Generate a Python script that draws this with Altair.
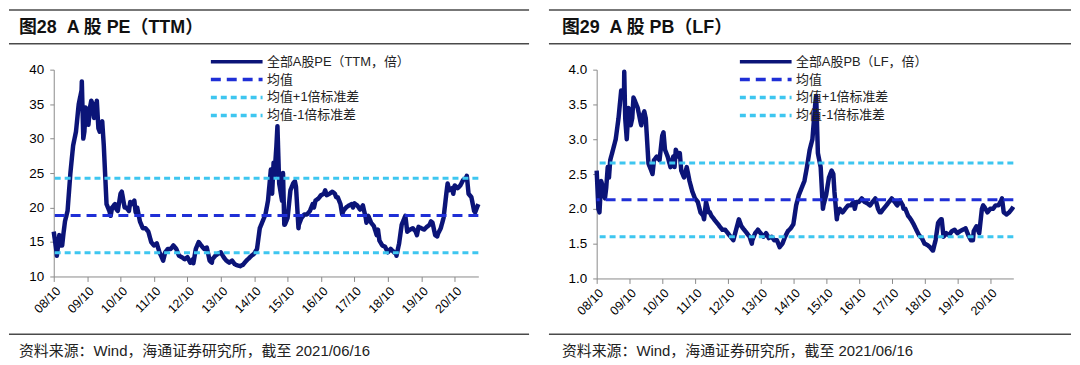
import altair as alt
import pandas as pd

FONT = "Liberation Sans, Arial, Noto Sans CJK SC"

# ---------------- data ----------------
month_start = "2008-10-01"   # first monthly observation; one value per month below

pe_values = [16.5, 13.5, 16, 14.5, 18, 19.5, 25, 29, 31, 35,
             37, 31, 34, 34.5, 35, 34, 31.5, 32, 29, 20.5,
             19.5, 20, 20.5, 19.5, 22, 21, 20, 19.5, 20.5, 21,
             20, 18, 17, 17, 16.5, 15, 14.5, 14.8, 13.5, 12.6,
             13.5, 14, 14, 14.5, 14, 13, 12.8, 12.5, 12.8, 12,
             12.5, 14, 15, 14.5, 14, 14.2, 12.3, 12.5, 13, 13.3,
             13.5, 12.8, 12.3, 12, 12.3, 11.8, 11.6, 11.5, 11.7, 12.2,
             12.6, 13, 13.3, 14, 17, 18, 19, 21, 25.5, 26.5,
             29, 23.5, 21, 17.5, 18.5, 22.5, 23.5, 23, 17.5, 18.5,
             19, 19, 19.5, 20.5, 21, 21.3, 21.8, 22, 21.8, 22,
             22.3, 22, 21.5, 20.5, 19.5, 20, 20.3, 20.5, 20.6, 20.3,
             19.7, 20.3, 18.5, 18.8, 17.8, 17.3, 16, 15.2, 14.5, 14.3,
             13.5, 14, 13.6, 13.2, 14.8, 17.5, 18.5, 16.5, 16.8, 17,
             16.5, 17.2, 17, 16.8, 17.2, 17.5, 17.8, 16, 16.2, 17,
             18.5, 22, 22.5, 22.8, 23.2, 22.8, 23.2, 24, 24.3, 22,
             21.5, 19.5, 20]
pe_extra_dates = ["2008-11-04", "2008-12-15", "2009-01-15", "2009-08-04", "2009-08-20",
                  "2009-09-15", "2009-10-15", "2009-11-15", "2009-12-15", "2010-01-15",
                  "2010-02-15", "2010-03-15", "2010-06-15", "2010-08-15", "2010-10-15",
                  "2010-11-15", "2011-01-15", "2011-03-15", "2012-01-10", "2012-12-05",
                  "2013-06-25", "2015-04-15", "2015-05-10", "2015-06-12", "2015-08-12",
                  "2015-08-26", "2015-12-20", "2016-01-28", "2016-07-15", "2016-11-15",
                  "2017-03-15", "2017-05-20", "2017-09-15", "2018-02-09", "2018-06-15",
                  "2019-01-03", "2019-04-10", "2019-08-15", "2020-01-15", "2020-03-23",
                  "2020-07-15", "2020-09-15", "2021-02-10", "2021-05-12", "2021-06-16"]
pe_extra_values = [13.0, 14.5, 16.2, 38.3, 30.0,
                   34.5, 32.0, 35.5, 33.0, 35.5,
                   31.0, 32.5, 18.8, 19.8, 22.3,
                   20.0, 20.8, 19.3, 12.3, 11.9,
                   12.0, 22.0, 24.5, 31.8, 25.0,
                   17.5, 23.8, 17.0, 20.0, 22.5,
                   21.5, 19.0, 20.0, 17.8, 16.8,
                   13.0, 18.8, 16.0, 18.0, 15.8,
                   23.5, 22.0, 24.6, 19.3, 20.5]

pb_values = [2.55, 1.95, 2.35, 2.15, 2.6, 2.7, 2.85, 3.0, 3.3, 3.7,
             3.6, 3.0, 3.4, 3.3, 3.55, 3.45, 3.25, 3.35, 3.3, 2.65,
             2.55, 2.7, 2.75, 2.7, 3.05, 2.85, 2.75, 2.6, 2.75, 2.85,
             2.75, 2.55, 2.45, 2.6, 2.4, 2.25, 2.15, 2.1, 1.95, 1.9,
             2.1, 1.95, 1.9, 1.85, 1.8, 1.75, 1.7, 1.7, 1.65, 1.6,
             1.55, 1.7, 1.85, 1.75, 1.7, 1.65, 1.6, 1.55, 1.65, 1.7,
             1.65, 1.6, 1.65, 1.58, 1.6, 1.55, 1.55, 1.45, 1.5, 1.6,
             1.68, 1.72, 1.78, 2.05, 2.2, 2.3, 2.4, 2.6, 2.85, 3.0,
             3.5, 2.8, 2.6, 2.05, 2.2, 2.45, 2.55, 2.25, 1.9, 2.0,
             1.95, 2.0, 2.05, 2.05, 2.1, 2.1, 2.1, 2.15, 2.1, 2.08,
             2.05, 2.1, 2.15, 2.0, 1.95, 2.0, 2.05, 2.1, 2.15, 2.1,
             2.05, 2.12, 2.05, 2.0, 1.9, 1.85, 1.78, 1.7, 1.62, 1.58,
             1.5, 1.48, 1.45, 1.4, 1.55, 1.8, 1.85, 1.6, 1.65, 1.62,
             1.68, 1.7, 1.65, 1.68, 1.7, 1.72, 1.62, 1.55, 1.68, 1.75,
             1.65, 2.0, 2.02, 1.95, 2.0, 2.0, 2.05, 2.05, 2.12, 1.95,
             1.92, 1.95, 2.0]
pb_extra_dates = ["2008-10-20", "2008-11-20", "2009-01-15", "2009-02-15", "2009-08-04",
                  "2009-08-15", "2009-09-20", "2009-10-15", "2009-11-15", "2010-02-10",
                  "2010-03-15", "2010-06-15", "2010-10-15", "2011-02-15", "2011-04-15",
                  "2012-01-10", "2012-03-15", "2013-06-25", "2015-06-12", "2015-08-26",
                  "2015-12-20", "2016-01-28", "2016-08-15", "2017-05-20", "2018-02-09",
                  "2019-01-03", "2019-04-10", "2020-03-23", "2020-07-15", "2021-02-10",
                  "2021-06-16"]
pb_extra_values = [2.0, 2.4, 2.3, 2.45, 3.97,
                   3.3, 3.45, 3.2, 3.6, 3.2,
                   3.4, 2.5, 3.1, 2.6, 2.8,
                   1.85, 1.95, 1.5, 3.62, 2.0,
                   2.5, 1.85, 2.0, 1.95, 2.0,
                   1.40, 1.85, 1.55, 2.05, 2.15,
                   2.03]

pe_series = ["全部A股PE（TTM，倍）", "均值", "均值+1倍标准差", "均值-1倍标准差"]
pb_series = ["全部A股PB（LF，倍）", "均值", "均值+1倍标准差", "均值-1倍标准差"]
pe_stats = [18.85, 24.25, 13.45]
pb_stats = [2.13, 2.66, 1.60]

pe_y_ticks = [10, 15, 20, 25, 30, 35, 40]
pb_y_ticks = [1.0, 1.5, 2.0, 2.5, 3.0, 3.5, 4.0]
x_tick_years = list(range(2008, 2021))

NB = "\u00a0"
titles = ["图28" + NB * 2 + "A 股 PE（TTM）", "图29" + NB * 2 + "A 股 PB（LF）"]
source_text = "资料来源：Wind，海通证券研究所，截至 2021/06/16"

series_colors = ["#0b1478", "#1f2fd6", "#3ec6f0", "#3ec6f0"]
series_dashes = [[1, 0], [10, 6], [6, 4], [6, 4]]


def panel(values, extra_dates, extra_values, names, stats, y_ticks, y_fmt,
          width, height, title, legend_x, left_ext, right_ext):
    months = pd.date_range(month_start, periods=len(values), freq="MS").strftime("%Y-%m-%d")
    df = pd.DataFrame({
        "date": list(months) + extra_dates,
        "value": list(values) + extra_values,
    }).sort_values("date")
    df["series"] = names[0]
    ref = pd.DataFrame({"series": names[1:], "value": stats})
    one = pd.DataFrame({"k": [0]})

    leg = alt.Legend(orient="none", legendX=legend_x, legendY=-16.5,
                     symbolType="M-4,0H4", symbolSize=169, symbolStrokeWidth=3.5,
                     labelFont=FONT, labelFontSize=13, labelColor="#222",
                     rowPadding=2, labelOffset=22, padding=0)
    color = alt.Color("series:N", title=None,
                      scale=alt.Scale(domain=names, range=series_colors), legend=leg)
    dash = alt.StrokeDash("series:N", title=None,
                          scale=alt.Scale(domain=names, range=series_dashes), legend=leg)

    x = alt.X("date:T", title=None,
              scale=alt.Scale(type="utc",
                              domain=[alt.DateTime(year=2008, month=10, date=1, utc=True),
                                      alt.DateTime(year=2021, month=6, date=16, utc=True)]),
              axis=alt.Axis(values=[alt.DateTime(year=yy, month=10, date=1, utc=True) for yy in x_tick_years],
                            format="%y/%m", labelAngle=315, labelFontSize=12.5, grid=False,
                            tickSize=5, labelPadding=3))
    y = alt.Y("value:Q", title=None,
              scale=alt.Scale(domain=[y_ticks[0], y_ticks[-1]], nice=False, zero=False),
              axis=alt.Axis(values=y_ticks, format=y_fmt, grid=False, tickSize=4,
                            labelPadding=6, labelFontSize=13.5, labelOverlap=False,
                            tickCount=len(y_ticks)))

    line = alt.Chart(df).mark_line(strokeWidth=4.5, strokeJoin="round").encode(
        x=x, y=y, color=color, strokeDash=dash)
    rules = alt.Chart(ref).mark_rule(strokeWidth=3).encode(
        y=y, color=color, strokeDash=dash)

    deco_rule = alt.Chart(one).mark_rule(color="#4a4a4a", strokeWidth=1.5)
    r1 = deco_rule.encode(x=alt.value(left_ext), x2=alt.value(right_ext), y=alt.value(-60))
    r2 = deco_rule.encode(x=alt.value(left_ext), x2=alt.value(right_ext), y=alt.value(-26))
    r3 = deco_rule.encode(x=alt.value(left_ext), x2=alt.value(right_ext), y=alt.value(266))
    ttl = alt.Chart(one).mark_text(text=title, align="left", baseline="middle", font=FONT,
                                   fontSize=18, fontWeight="bold", color="#111").encode(
        x=alt.value(-35), y=alt.value(-42))
    src = alt.Chart(one).mark_text(text=source_text, align="left", baseline="middle", font=FONT,
                                   fontSize=15, color="#222").encode(
        x=alt.value(-35), y=alt.value(283))

    return alt.layer(r1, r2, r3, ttl, src, line, rules).properties(width=width, height=height)


left = panel(pe_values, pe_extra_dates, pe_extra_values, pe_series, pe_stats,
             pe_y_ticks, "d", 427, 208, titles[0], 175.5, -45, 478)
right = panel(pb_values, pb_extra_dates, pb_extra_values, pb_series, pb_stats,
              pb_y_ticks, ".1f", 419, 210, titles[1], 161.5, -48, 477)

chart = alt.hconcat(left, right, spacing=18).resolve_scale(
    x="independent", y="independent", color="independent", strokeDash="independent"
).properties(padding=0).configure_view(stroke=None).configure_axis(
    domainColor="#8a8a8a", tickColor="#8a8a8a", labelColor="#000", labelFont=FONT
)

chart.save("out.html", embed_options={"renderer": "svg", "actions": False})
